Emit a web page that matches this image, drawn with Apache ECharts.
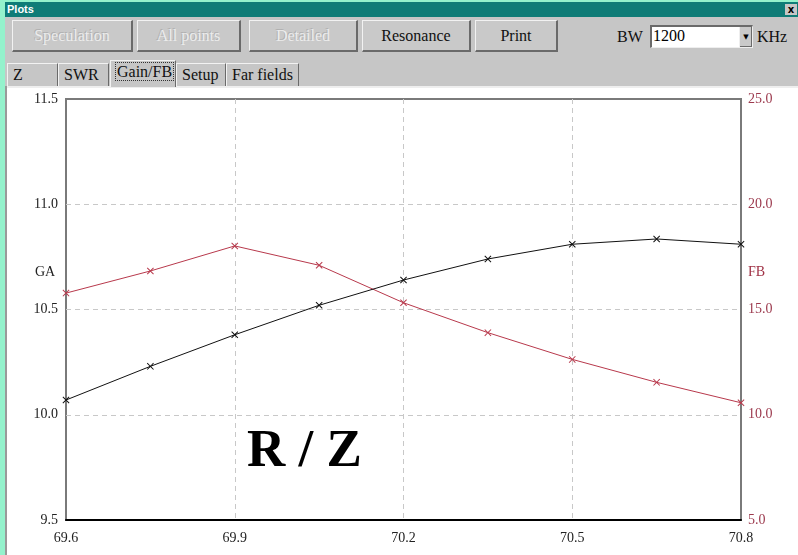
<!DOCTYPE html>
<html>
<head>
<meta charset="utf-8">
<script src="https://cdn.jsdelivr.net/npm/echarts@6/dist/echarts.min.js"></script>
<style>
  html, body { margin: 0; padding: 0; }
  body { width: 798px; height: 555px; position: relative; overflow: hidden; background: #c6c6c6; font-family: "Liberation Serif", "Times New Roman", "DejaVu Serif", serif; }
  .edge { position: absolute; left: 0; top: 0; width: 5px; height: 555px; background: #94f2cc; }
  .topedge { position: absolute; left: 0; top: 0; width: 798px; height: 2px; background: #94f2cc; }
  .titlebar { position: absolute; left: 5px; top: 2px; width: 793px; height: 15px; background: #0f7c77; color: #fff; font: bold 11px "Liberation Sans", "DejaVu Sans", sans-serif; line-height: 15px; padding-left: 2px; box-sizing: border-box; }
  .close { position: absolute; right: 1px; top: 2px; width: 12px; height: 11px; background: #c6c6c6; color: #000; font: bold 10px "DejaVu Sans", sans-serif; line-height: 11px; text-align: center; }
  .btn { position: absolute; top: 20px; height: 32px; background: #c9c9c9; box-sizing: border-box; border-top: 1px solid #f2f2f2; border-left: 1px solid #f2f2f2; border-right: 2px solid #6a6a6a; border-bottom: 2px solid #6a6a6a; font-family: "Liberation Serif", "Times New Roman", serif; font-size: 16px; line-height: 29px; text-align: center; color: #111; }
  .btn.off { color: #ececec; text-shadow: -1px -1px 0 #b0b0b0; }
  .lbl { position: absolute; font-family: "Liberation Serif", "Times New Roman", serif; font-size: 16px; color: #111; }
  .combo { position: absolute; left: 650px; top: 25px; width: 103px; height: 23px; background: #fff; box-sizing: border-box; border-top: 2px solid #6a6a6a; border-left: 2px solid #6a6a6a; border-right: 1px solid #eee; border-bottom: 1px solid #eee; font-family: "Liberation Serif", "Times New Roman", serif; font-size: 16px; line-height: 18px; padding-left: 1px; }
  .arrow { position: absolute; right: 0; top: 0; width: 12px; height: 20px; background: #c9c9c9; border-left: 1px solid #eee; box-shadow: inset -1px -1px 0 #6a6a6a; font-family: "DejaVu Sans", sans-serif; font-size: 7px; line-height: 20px; text-align: center; }
  .tab { position: absolute; top: 63px; height: 24px; background: #c6c6c6; box-sizing: border-box; border-top: 1px solid #f2f2f2; border-left: 1px solid #f2f2f2; border-right: 1px solid #6a6a6a; font-family: "Liberation Serif", "Times New Roman", serif; font-size: 16px; line-height: 22px; padding-left: 5px; color: #111; }
  .tab.sel { top: 60px; height: 27px; z-index: 2; }
  .tab.sel span { outline: 1px dotted #333; padding: 0 1px; }
  .panelline { position: absolute; left: 5px; top: 86px; width: 793px; height: 2px; background: #eeeeee; }
  .leftline { position: absolute; left: 5px; top: 86px; width: 2px; height: 469px; background: #9a9a9a; }
  #chart { position: absolute; left: 7px; top: 88px; width: 791px; height: 467px; background: #fff; }
</style>
</head>
<body>
<div class="edge"></div>
<div class="topedge"></div>
<div class="titlebar">Plots<div class="close">x</div></div>

<div class="btn off" style="left:12px;width:121px;">Speculation</div>
<div class="btn off" style="left:137px;width:104px;">All points</div>
<div class="btn off" style="left:249px;width:109px;">Detailed</div>
<div class="btn" style="left:362px;width:109px;">Resonance</div>
<div class="btn" style="left:475px;width:83px;">Print</div>

<div class="lbl" style="left:617px;top:28px;">BW</div>
<div class="combo">1200<div class="arrow">&#9660;</div></div>
<div class="lbl" style="left:757px;top:28px;">KHz</div>

<div class="tab" style="left:7px;width:51px;">Z</div>
<div class="tab" style="left:58px;width:51px;">SWR</div>
<div class="tab sel" style="left:110px;width:66px;"><span>Gain/FB</span></div>
<div class="tab" style="left:176px;width:50px;">Setup</div>
<div class="tab" style="left:226px;width:73px;">Far fields</div>

<div class="panelline"></div>
<div class="leftline"></div>
<div id="chart"></div>

<script>
// frequency (MHz) of each computed point
const freqs = [69.6, 69.75, 69.9, 70.05, 70.2, 70.35, 70.5, 70.65, 70.8];
// gain, dBi (left axis)
const gainValues = [10.07, 10.23, 10.38, 10.52, 10.64, 10.74, 10.81, 10.835, 10.81];
// front/back ratio, dB (right axis)
const fbValues = [15.78, 16.83, 18.02, 17.1, 15.32, 13.9, 12.63, 11.54, 10.57];

const xRange = [69.6, 70.8];
const gaRange = [9.5, 11.5];
const fbRange = [5, 25];

const serif = '"Liberation Serif", "Times New Roman", serif';
const redColor = '#b8394c';
const crossSymbol = 'path://M0,1L1,0L5,4L9,0L10,1L6,5L10,9L9,10L5,6L1,10L0,9L4,5Z';

const chart = echarts.init(document.getElementById('chart'));

const gridLine = { show: true, showMinLine: false, showMaxLine: false, lineStyle: { color: '#c8c8c8', type: [5, 4] } };

const option = {
  backgroundColor: '#fff',
  animation: false,
  textStyle: { fontFamily: serif },
  grid: {
    left: 59,
    right: 57,
    top: 11,
    bottom: 35,
    show: true,
    borderColor: '#7a7a7a',
    borderWidth: 2
  },
  xAxis: {
    type: 'value',
    min: xRange[0],
    max: xRange[1],
    interval: 0.3,
    axisLine: { show: true, lineStyle: { color: '#000', width: 2 } },
    axisTick: { show: false },
    axisLabel: {
      margin: 11,
      fontSize: 14,
      fontFamily: serif,
      color: '#222',
      formatter: v => v.toFixed(1)
    },
    splitLine: gridLine
  },
  yAxis: [
    {
      type: 'value',
      min: gaRange[0],
      max: gaRange[1],
      interval: 0.5,
      position: 'left',
      axisLine: { show: false },
      axisTick: { show: false },
      axisLabel: { margin: 8, fontSize: 14, fontFamily: serif, color: '#222', formatter: v => v.toFixed(1) },
      splitLine: gridLine
    },
    {
      type: 'value',
      min: fbRange[0],
      max: fbRange[1],
      interval: 5,
      position: 'right',
      axisLine: { show: false },
      axisTick: { show: false },
      axisLabel: { margin: 7, fontSize: 14, fontFamily: serif, color: '#9c3a4e', formatter: v => v.toFixed(1) },
      splitLine: { show: false }
    }
  ],
  series: [
    {
      name: 'FB',
      type: 'line',
      yAxisIndex: 1,
      data: freqs.map((f, i) => [f, fbValues[i]]),
      symbol: crossSymbol,
      symbolSize: 7,
      itemStyle: { color: redColor },
      lineStyle: { color: redColor, width: 1 }
    },
    {
      name: 'GA',
      type: 'line',
      yAxisIndex: 0,
      data: freqs.map((f, i) => [f, gainValues[i]]),
      symbol: crossSymbol,
      symbolSize: 7,
      itemStyle: { color: '#111' },
      lineStyle: { color: '#111', width: 1 }
    }
  ],
  graphic: [
    {
      type: 'text',
      left: 28,
      top: 177,
      style: { text: 'GA', fontSize: 14, fill: '#222', fontFamily: serif }
    },
    {
      type: 'text',
      left: 741,
      top: 177,
      style: { text: 'FB', fontSize: 14, fill: '#a03246', fontFamily: serif }
    },
    {
      type: 'text',
      left: 240,
      top: 338,
      style: { text: 'R / Z', fontSize: 53, fontWeight: 'bold', fill: '#000', fontFamily: serif }
    }
  ]
};

chart.setOption(option);
</script>
</body>
</html>
